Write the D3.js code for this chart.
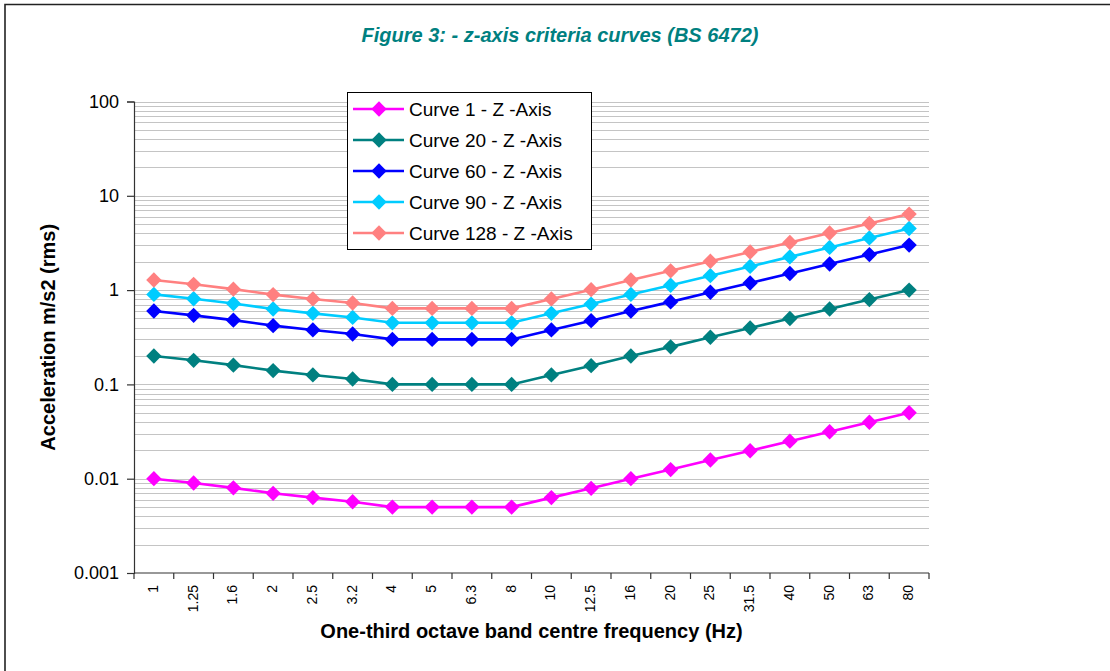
<!DOCTYPE html>
<html>
<head>
<meta charset="utf-8">
<script src="https://cdn.jsdelivr.net/npm/d3@7"></script>
<style>
  html, body { margin: 0; padding: 0; background: #fff; }
  svg { display: block; font-family: Arial, "Liberation Sans", Helvetica, sans-serif; }
</style>
</head>
<body>
<svg id="chart" width="1110" height="671"></svg>
<script>
// One-third octave band centre frequencies (Hz)
const frequencies = ["1", "1.25", "1.6", "2", "2.5", "3.2", "4", "5", "6.3", "8",
                     "10", "12.5", "16", "20", "25", "31.5", "40", "50", "63", "80"];

// z-axis criteria curves, acceleration m/s2 (rms)
const curve1   = [0.01, 0.009, 0.008, 0.007, 0.0063, 0.0057, 0.005, 0.005, 0.005, 0.005,
                  0.0063, 0.0079, 0.01, 0.0125, 0.0158, 0.0198, 0.025, 0.0315, 0.0397, 0.05];
const curve20  = [0.2, 0.18, 0.16, 0.14, 0.126, 0.114, 0.1, 0.1, 0.1, 0.1,
                  0.126, 0.158, 0.2, 0.25, 0.316, 0.396, 0.5, 0.63, 0.794, 1.0];
const curve60  = [0.6, 0.54, 0.48, 0.42, 0.378, 0.342, 0.3, 0.3, 0.3, 0.3,
                  0.378, 0.474, 0.6, 0.75, 0.948, 1.188, 1.5, 1.89, 2.382, 3.0];
const curve90  = [0.9, 0.81, 0.72, 0.63, 0.567, 0.513, 0.45, 0.45, 0.45, 0.45,
                  0.567, 0.711, 0.9, 1.125, 1.422, 1.782, 2.25, 2.835, 3.573, 4.5];
const curve128 = [1.28, 1.152, 1.024, 0.896, 0.806, 0.730, 0.64, 0.64, 0.64, 0.64,
                  0.806, 1.011, 1.28, 1.6, 2.022, 2.534, 3.2, 4.032, 5.082, 6.4];

const seriesNames  = ["Curve 1 - Z -Axis", "Curve 20 - Z -Axis", "Curve 60 - Z -Axis",
                      "Curve 90 - Z -Axis", "Curve 128 - Z -Axis"];
const seriesValues = [curve1, curve20, curve60, curve90, curve128];
const seriesColors = ["#FF00FF", "#008080", "#0000FF", "#00CCFF", "#FF8080"];

const yTickValues = [0.001, 0.01, 0.1, 1, 10, 100];
const yTickLabels = ["0.001", "0.01", "0.1", "1", "10", "100"];

const titleText  = "Figure 3: - z-axis criteria curves (BS 6472)";
const xTitleText = "One-third octave band centre frequency (Hz)";
const yTitleText = "Acceleration m/s2 (rms)";

const svg = d3.select("#chart");
const plot = { left: 134, right: 929, top: 101.5, bottom: 573 };

// outer frame
svg.append("path")
  .attr("d", "M5,700 L5,4.5 L1120,4.5")
  .attr("fill", "none").attr("stroke", "#222").attr("stroke-width", 1.6);

const x = d3.scaleBand().domain(frequencies).range([plot.left, plot.right]).padding(0);
const y = d3.scaleLog().domain([0.001, 100]).range([plot.bottom, plot.top]);

// minor + major horizontal gridlines (2..9 of each decade, and decades)
const gridVals = [];
for (let e = -3; e < 2; e++) {
  for (let m = 1; m <= 9; m++) {
    const v = m * Math.pow(10, e);
    if (m === 1 && e === -3) continue;
    gridVals.push(v);
  }
}
gridVals.push(100);
svg.append("g").selectAll("line").data(gridVals).join("line")
  .attr("x1", plot.left).attr("x2", plot.right)
  .attr("y1", d => Math.round(y(d)) + 0.5).attr("y2", d => Math.round(y(d)) + 0.5)
  .attr("stroke", "#c4c4c4").attr("stroke-width", 1.2);

// y axis
const yAxis = svg.append("g")
  .attr("transform", `translate(${plot.left},0)`)
  .call(d3.axisLeft(y).tickValues(yTickValues)
        .tickFormat((d, i) => yTickLabels[i]).tickSize(7).tickPadding(8));
yAxis.select(".domain").attr("stroke", "#333").attr("stroke-width", 1.2);
yAxis.selectAll(".tick line").attr("stroke", "#333").attr("stroke-width", 1.2);
yAxis.selectAll(".tick text").attr("font-size", 18).attr("fill", "#000")
  .attr("font-family", "Arial, 'Liberation Sans', sans-serif");

// x axis: ticks at band boundaries
const xAxisG = svg.append("g").attr("transform", `translate(0,${plot.bottom})`);
xAxisG.append("line").attr("x1", plot.left).attr("x2", plot.right)
  .attr("y1", 0).attr("y2", 0).attr("stroke", "#333").attr("stroke-width", 1.2);
const boundaries = frequencies.map(f => x(f)).concat([x(frequencies[frequencies.length - 1]) + x.bandwidth()]);
xAxisG.selectAll("line.tk").data(boundaries).join("line").attr("class", "tk")
  .attr("x1", d => d).attr("x2", d => d).attr("y1", 0).attr("y2", 6)
  .attr("stroke", "#333").attr("stroke-width", 1.2);
xAxisG.selectAll("text").data(frequencies).join("text")
  .attr("transform", d => `translate(${x(d) + x.bandwidth() / 2 - 1},12) rotate(-90)`)
  .attr("text-anchor", "end").attr("dy", "0.35em")
  .attr("font-size", 14).attr("fill", "#000")
  .text(d => d);

// series lines and diamond markers
const line = d3.line()
  .x((d, i) => x(frequencies[i]) + x.bandwidth() / 2)
  .y(d => y(d));
const diamond = d3.symbol().type(d3.symbolDiamond2).size(150);

seriesValues.forEach((vals, s) => {
  const g = svg.append("g");
  g.append("path").datum(vals).attr("d", line)
    .attr("fill", "none").attr("stroke", seriesColors[s]).attr("stroke-width", 2.6);
  g.selectAll("path.mk").data(vals).join("path").attr("class", "mk")
    .attr("d", diamond)
    .attr("transform", (d, i) => `translate(${x(frequencies[i]) + x.bandwidth() / 2},${y(d)})`)
    .attr("fill", seriesColors[s]);
});

// legend
const legend = svg.append("g").attr("transform", "translate(347,92)");
legend.append("rect").attr("x", 0.5).attr("y", 0.5).attr("width", 244).attr("height", 157)
  .attr("fill", "#fff").attr("stroke", "#000").attr("stroke-width", 1);
seriesNames.forEach((name, s) => {
  const ry = 17 + s * 31;
  legend.append("line").attr("x1", 6).attr("x2", 57).attr("y1", ry).attr("y2", ry)
    .attr("stroke", seriesColors[s]).attr("stroke-width", 2.6);
  legend.append("path").attr("d", diamond)
    .attr("transform", `translate(32,${ry})`).attr("fill", seriesColors[s]);
  legend.append("text").attr("x", 62).attr("y", ry).attr("dy", "0.36em")
    .attr("font-size", 19).attr("fill", "#000").text(name);
});

// titles
svg.append("text").attr("x", 560).attr("y", 42).attr("text-anchor", "middle")
  .attr("font-size", 20).attr("font-weight", "bold").attr("font-style", "italic")
  .attr("fill", "#008080").text(titleText);

svg.append("text").attr("x", (plot.left + plot.right) / 2).attr("y", 638)
  .attr("text-anchor", "middle").attr("font-size", 20).attr("font-weight", "bold")
  .attr("fill", "#000").text(xTitleText);

svg.append("text")
  .attr("transform", `translate(55,${(plot.top + plot.bottom) / 2}) rotate(-90)`)
  .attr("text-anchor", "middle").attr("font-size", 20).attr("font-weight", "bold")
  .attr("fill", "#000").text(yTitleText);
</script>
</body>
</html>
